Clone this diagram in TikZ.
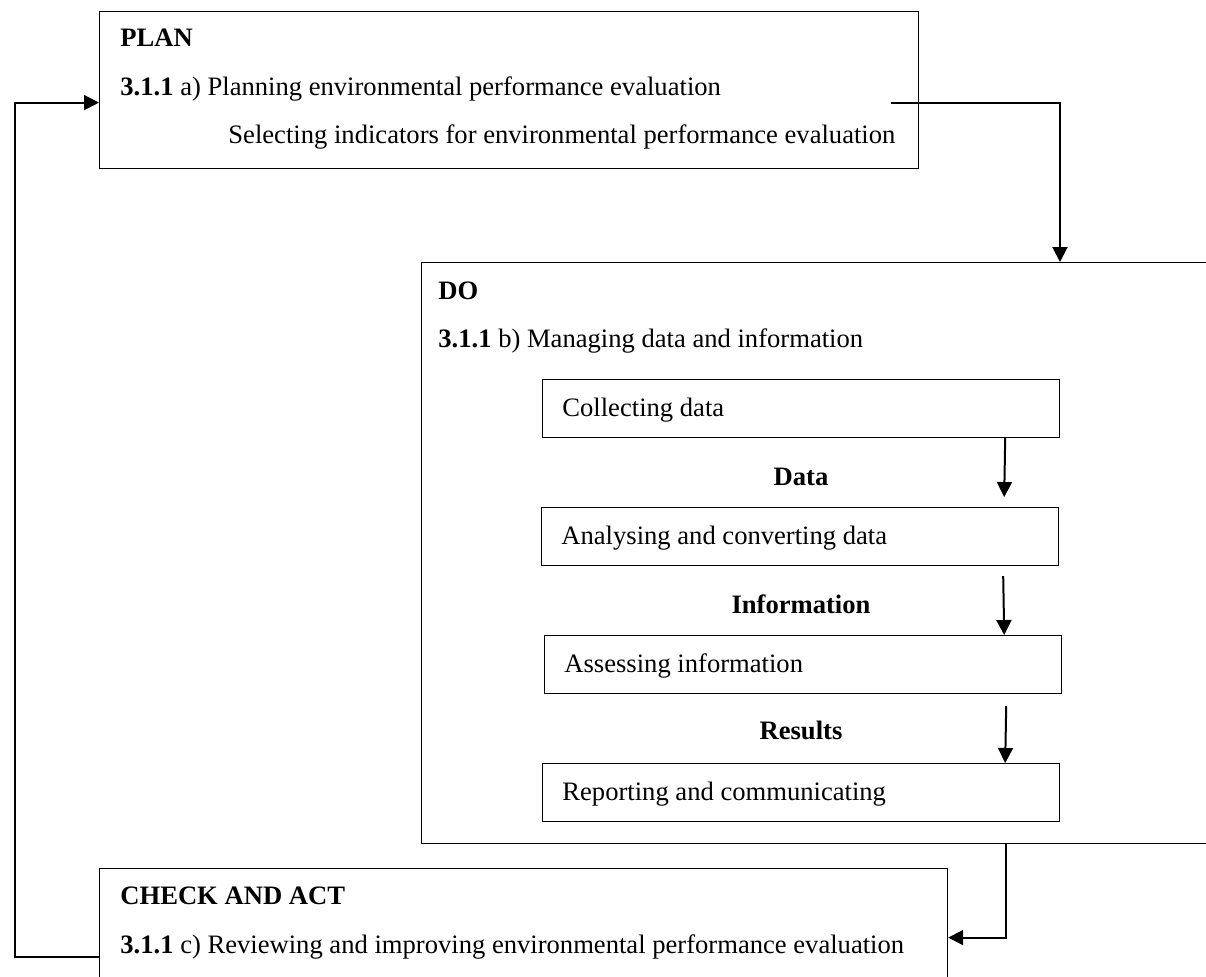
\documentclass[tikz,border=0pt]{standalone}
\usepackage{fontspec}
\setmainfont{Liberation Serif}
\usepackage{tikz}
\usetikzlibrary{arrows.meta}

\begin{document}
\begin{tikzpicture}[x=0.5pt,y=-0.5pt,>={Triangle[length=7.5pt,width=7.5pt]},
  font=\fontsize{13.3}{16}\selectfont]
  \tikzstyle{box}=[draw,rectangle,inner sep=0pt,anchor=north west,line width=0.6pt]
  \tikzstyle{step box}=[box,minimum width=258.5pt,minimum height=29pt]
  \tikzstyle{txt}=[anchor=base west,inner sep=0pt]
  \tikzstyle{flow}=[->,line width=1pt]

  \clip (0,0) rectangle (1206,976);

  % phases
  \node[box,minimum width=409.5pt,minimum height=78.5pt] (plan)  at (99,11)  {};
  \node[box,minimum width=404.5pt,minimum height=290.5pt] (do)   at (421,262) {};
  \node[box,minimum width=424pt,minimum height=69pt]     (check) at (99,868) {};

  \node[txt] (planT)  at (120,46)  {\textbf{PLAN}};
  \node[txt] (planA)  at (120,95)  {\textbf{3.1.1} a) Planning environmental performance evaluation};
  \node[txt] (planB)  at (228,143) {Selecting indicators for environmental performance evaluation};
  \node[txt] (doT)    at (438,299) {\textbf{DO}};
  \node[txt] (doB)    at (438,347) {\textbf{3.1.1} b) Managing data and information};
  \node[txt] (checkT) at (120,904) {\textbf{CHECK AND ACT}};
  \node[txt] (checkC) at (120,953) {\textbf{3.1.1} c) Reviewing and improving environmental performance evaluation};

  % steps inside DO
  \node[step box] (collect) at (542,379) {};
  \node[step box] (analyse) at (541,507) {};
  \node[step box] (assess)  at (544,635) {};
  \node[step box] (report)  at (542,763) {};

  \node[txt] (collectT) at (562,416) {Collecting data};
  \node[txt] (analyseT) at (561,544) {Analysing and converting data};
  \node[txt] (assessT)  at (564,672) {Assessing information};
  \node[txt] (reportT)  at (562,800) {Reporting and communicating};

  \node[anchor=base] (data)    at (801,485) {\textbf{Data}};
  \node[anchor=base] (info)    at (801,613) {\textbf{Information}};
  \node[anchor=base] (results) at (801,739) {\textbf{Results}};

  \draw[flow] ([xshift=-27.5pt]collect.south east) -- ([xshift=-27.5pt,yshift=5pt]analyse.north east);
  \draw[flow] ([xshift=-28pt,yshift=-5pt]analyse.south east) -- ([xshift=-29pt]assess.north east);
  \draw[flow] ([xshift=-28pt,yshift=-6pt]assess.south east) -- ([xshift=-27.5pt]report.north east);

  % cycle
  \draw[flow] ([xshift=-14pt,yshift=-6.25pt]plan.east) -| ([xshift=319.5pt]do.north west);
  \draw[flow] ([xshift=292.5pt]do.south west) |- (check.east);
  \draw[flow] ([yshift=-9.5pt]check.west) -- ++(-42pt,0) |- ([yshift=-6.25pt]plan.west);
\end{tikzpicture}
\end{document}
